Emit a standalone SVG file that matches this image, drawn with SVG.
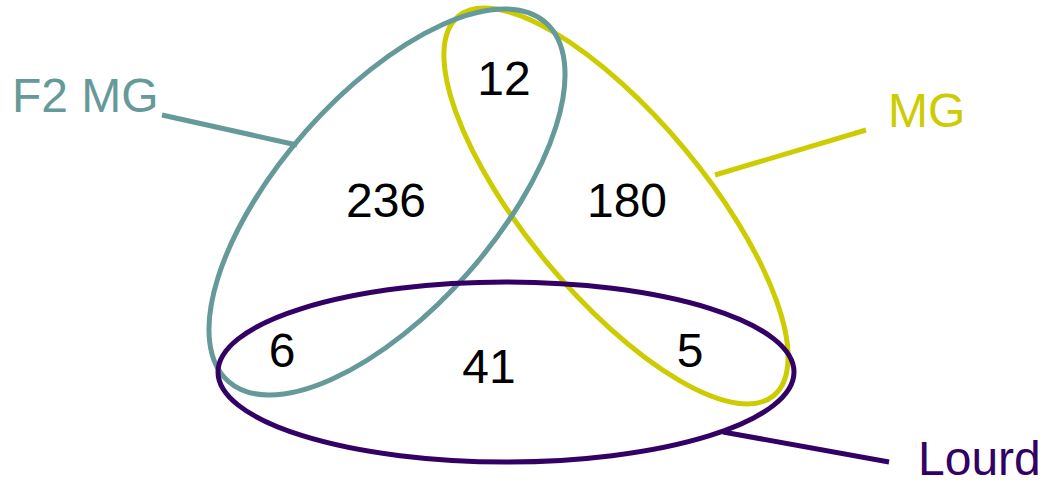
<svg xmlns="http://www.w3.org/2000/svg" width="1045" height="485" viewBox="0 0 1045 485">
<style>
.t{font-family:"Liberation Sans",Arial,sans-serif;font-size:48px}
.n{fill:#000;text-anchor:middle}
.e{fill:none;stroke-width:5}
</style>
<rect width="1045" height="485" fill="#fff"/>
<g id="mg">
<ellipse class="e" cx="616" cy="206" rx="246.6" ry="89.2" transform="rotate(50.2 616 206)" stroke="#cccc00"/>
<text class="t" x="888" y="127" fill="#cccc00">MG</text>
</g>
<g id="f2mg">
<ellipse class="e" cx="387" cy="202" rx="239.5" ry="107.7" transform="rotate(-48.5 387 202)" stroke="#669999"/>
<text class="t" x="12" y="112" fill="#669999">F2 MG</text>
</g>
<g id="lourd">
<ellipse class="e" cx="506" cy="372" rx="288" ry="90" stroke="#330066"/>
<text class="t" x="918" y="475" fill="#330066">Lourd</text>
</g>
<g id="connectors" stroke-width="5">
<line x1="162" y1="115" x2="297" y2="145" stroke="#669999"/>
<line x1="715" y1="175" x2="866" y2="130" stroke="#cccc00"/>
<line x1="723" y1="432" x2="889" y2="462" stroke="#330066"/>
</g>
<g id="counts">
<text class="t n" x="504" y="95">12</text>
<text class="t n" x="386" y="217">236</text>
<text class="t n" x="627" y="217">180</text>
<text class="t n" x="282" y="367">6</text>
<text class="t n" x="489" y="383">41</text>
<text class="t n" x="690" y="367">5</text>
</g>
</svg>
